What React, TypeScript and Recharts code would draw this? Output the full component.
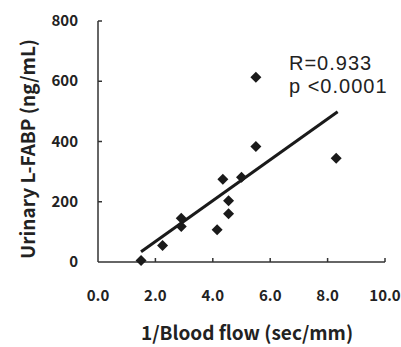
import { ScatterChart, Scatter, XAxis, YAxis } from "recharts";

// 1/Blood flow (sec/mm) vs urinary L-FABP (ng/mL)
const flow = [1.5, 2.25, 2.9, 2.9, 4.15, 4.35, 4.55, 4.55, 5.0, 5.5, 5.5, 8.3];
const lfabp = [5, 55, 118, 145, 107, 275, 203, 160, 281, 383, 613, 344];

// regression line end points
const fitX = [1.5, 8.35];
const fitY = [34, 499];

const xTicks = [0, 2, 4, 6, 8, 10];
const yTicks = [0, 200, 400, 600, 800];

const points = flow.map((x, i) => ({ x, y: lfabp[i] }));
const fit = fitX.map((x, i) => ({ x, y: fitY[i] }));

const ink = "#1a1a1a";
const axisColor = "#333";
const font = "'Noto Sans CJK JP', 'Liberation Sans', sans-serif";

function Diamond({ cx, cy }: any) {
  const r = 5.5;
  return (
    <polygon
      points={`${cx},${cy - r} ${cx + r},${cy} ${cx},${cy + r} ${cx - r},${cy}`}
      fill={ink}
    />
  );
}

function XTick({ x, y, payload }: any) {
  return (
    <g>
      {payload.value !== 0 && (
        <line x1={x} x2={x} y1={y} y2={y - 4} stroke={axisColor} strokeWidth={1.5} />
      )}
      <text
        x={x}
        y={y + 39}
        textAnchor="middle"
        fontFamily={font}
        fontWeight={700}
        fontSize={15}
        fill="#222"
      >
        {payload.value.toFixed(1)}
      </text>
    </g>
  );
}

function YTick({ x, y, payload }: any) {
  return (
    <g>
      {payload.value !== 0 && (
        <line x1={x} x2={x + 4} y1={y} y2={y} stroke={axisColor} strokeWidth={1.5} />
      )}
      <text
        x={x - 20}
        y={y + 5}
        textAnchor="end"
        fontFamily={font}
        fontWeight={700}
        fontSize={15}
        fill="#222"
      >
        {payload.value}
      </text>
    </g>
  );
}

export default function App() {
  return (
    <div
      style={{
        position: "absolute",
        left: 0,
        top: 0,
        width: 401,
        height: 347,
        background: "#fff",
      }}
    >
      <ScatterChart
        width={401}
        height={347}
        margin={{ top: 21, right: 16, bottom: 0, left: 0 }}
      >
        <XAxis
          type="number"
          dataKey="x"
          domain={[0, 10]}
          ticks={xTicks}
          height={85}
          tickSize={0}
          tickMargin={0}
          tickLine={false}
          tick={<XTick />}
          axisLine={{ stroke: axisColor, strokeWidth: 1.5 }}
          label={{
            content: () => (
              <text
                x={247}
                y={340}
                textAnchor="middle"
                fontFamily={font}
                fontWeight={700}
                fontSize={19}
                fill="#222"
              >
                1/Blood flow (sec/mm)
              </text>
            ),
          }}
        />
        <YAxis
          type="number"
          dataKey="y"
          domain={[0, 800]}
          ticks={yTicks}
          width={98}
          tickSize={0}
          tickMargin={0}
          tickLine={false}
          tick={<YTick />}
          axisLine={{ stroke: axisColor, strokeWidth: 1.5 }}
          label={{
            content: () => (
              <text
                transform="translate(35,149) rotate(-90)"
                textAnchor="middle"
                fontFamily={font}
                fontWeight={700}
                fontSize={19}
                fill="#222"
              >
                Urinary L-FABP (ng/mL)
              </text>
            ),
          }}
        />
        <Scatter
          data={fit}
          isAnimationActive={false}
          line={{ stroke: ink, strokeWidth: 3 }}
          shape={() => <g />}
        />
        <Scatter data={points} isAnimationActive={false} shape={<Diamond />} />
      </ScatterChart>
      <svg
        width={401}
        height={347}
        style={{ position: "absolute", left: 0, top: 0, pointerEvents: "none" }}
      >
        <text
          x={289}
          y={70}
          fontFamily="'Liberation Sans', Arial, sans-serif"
          fontSize={20}
          letterSpacing={1}
          fill="#222"
        >
          R=0.933
        </text>
        <text
          x={289}
          y={93}
          fontFamily="'Liberation Sans', Arial, sans-serif"
          fontSize={20}
          letterSpacing={1}
          fill="#222"
        >
          p &lt;0.0001
        </text>
      </svg>
    </div>
  );
}
